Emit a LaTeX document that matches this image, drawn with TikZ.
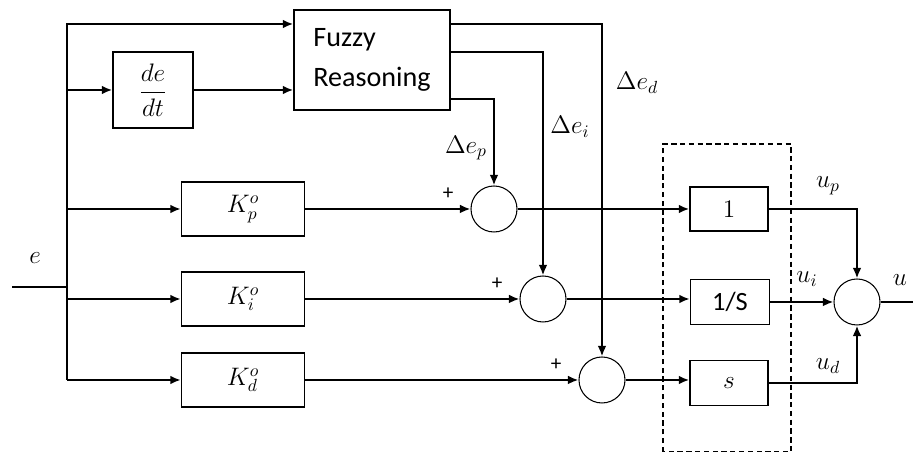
\documentclass[tikz,border=0pt]{standalone}
\usepackage{fontspec}
\setmainfont{Carlito}
\usetikzlibrary{arrows.meta}

\begin{document}
\begin{tikzpicture}[font=\Large,
  wire/.style={line width=1.3pt},
  sig/.style={wire,-{Latex[length=6pt,width=5pt]}},
  block/.style={draw,line width=0.8pt,inner sep=0pt},
  sumnode/.style={draw,circle,line width=0.6pt,minimum size=0.92cm,inner sep=0pt}]
\useasboundingbox (0,0) rectangle (18.26,9.04);
% fuzzy part
\coordinate (ein) at (0.24,3.30);
\coordinate (bustop) at (1.34,8.56);
\coordinate (busbot) at (1.34,1.44);
\node[block,minimum width=1.6cm,minimum height=1.52cm] (dedt) at (3.06,7.24) {$\displaystyle\frac{de}{dt}$};
\node[block,minimum width=3.12cm,minimum height=2cm,align=left,font=\fontsize{16}{23}\selectfont] (fuzzy) at (7.44,7.84) {Fuzzy\\Reasoning};
\node (e) at (0.70,3.88) {$e$};
\draw[wire] (ein) -- (ein -| bustop);
\draw[sig] (busbot) -- (bustop) -- (bustop -| fuzzy.west);
\draw[sig] (bustop |- dedt) -- (dedt);
\draw[sig] (dedt) -- (dedt -| fuzzy.west);
% gains and sums
\foreach \n/\s/\x/\y/\k in {kp/s1/9.88/4.86/p,ki/s2/10.86/3.06/i,kd/s3/12.04/1.44/d}
{
  \node[block,minimum width=2.46cm,minimum height=1.08cm] (\n) at (4.86,\y) {$K_\k^o$};
  \node[sumnode] (\s) at (\x,\y) {};
  \node[font=\fontsize{12}{14}\selectfont] (plus\k) at (\x-0.92,\y+0.30) {+};
  \draw[sig] (bustop |- \n) -- (\n);
  \draw[sig] (\n) -- (\s);
}
\coordinate (fi) at ([yshift=0.16cm]fuzzy.east);
\coordinate (fp) at ([yshift=-0.78cm]fuzzy.east);
\draw[sig] (fp) -| (s1.north);
\draw[sig] (fi) -| (s2.north);
\draw[sig] (fuzzy.east |- bustop) -| (s3.north);
\node (dep) at (9.32,6.08) {$\Delta e_p$};
\node (dei) at (11.40,6.50) {$\Delta e_i$};
\node (ded) at (12.74,7.38) {$\Delta e_d$};
% PID part
\draw[dashed,line width=0.6pt,dash pattern=on 3pt off 2pt] (13.26,0) rectangle (15.82,6.16);
\node[block,minimum width=1.56cm,minimum height=0.88cm] (one) at (14.58,4.86) {$1$};
\node[block,minimum width=1.58cm,minimum height=0.90cm,font=\fontsize{15}{17}\selectfont] (inv) at (14.60,3.00) {1/S};
\node[block,minimum width=1.56cm,minimum height=0.90cm] (sbox) at (14.58,1.38) {$s$};
\draw[sig] (s1) -- (one);
\draw[sig] (s2) -- (s2 -| inv.west);
\draw[sig] (s3) -- (s3 -| sbox.west);
\node[sumnode] (out) at (17.14,3.00) {};
\coordinate (uend) at (18.26,3.00);
\draw[sig] (one) -| (out.north);
\draw[sig] (inv) -- (out);
\draw[sig] (sbox) -| (out.south);
\draw[wire] (out) -- (uend);
\node (up) at (16.56,5.32) {$u_p$};
\node (ui) at (16.14,3.46) {$u_i$};
\node (ud) at (16.56,1.72) {$u_d$};
\node (u) at (18.00,3.44) {$u$};
\end{tikzpicture}
\end{document}
